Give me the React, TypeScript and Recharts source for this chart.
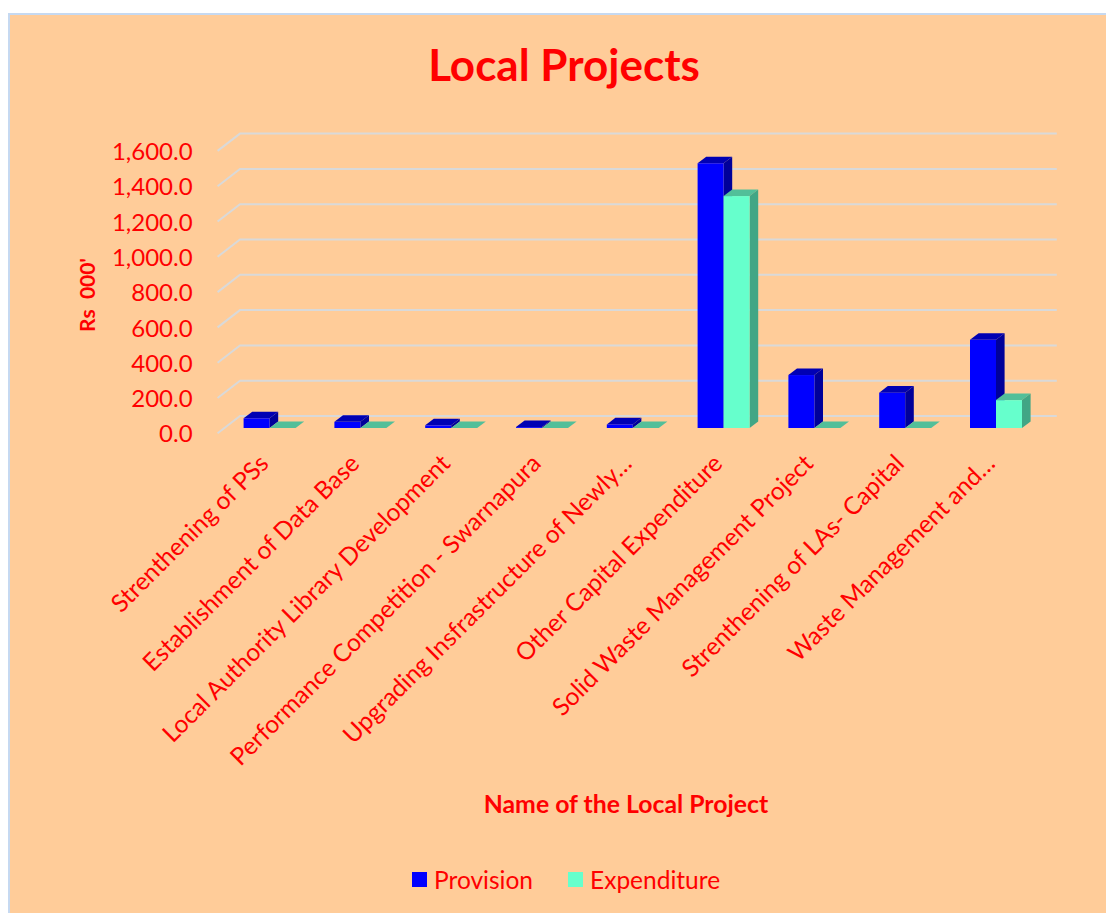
import React from 'react';
import { BarChart, Bar, XAxis, YAxis, CartesianGrid, Legend } from 'recharts';

const projects = [
  'Strenthening of PSs',
  'Establishment of Data Base',
  'Local Authority Library Development',
  'Performance Competition - Swarnapura',
  'Upgrading Insfrastructure of Newly…',
  'Other Capital Expenditure',
  'Solid Waste Management Project',
  'Strenthening of LAs- Capital',
  'Waste Management and…',
];
const provision = [55, 35, 15, 5, 20, 1500, 300, 200, 500];
const expenditure = [0, 0, 0, 0, 0, 1314, 0, 0, 158];
const yTicks = [0, 200, 400, 600, 800, 1000, 1200, 1400, 1600];

const chartData = projects.map((name, i) => ({ name, provision: provision[i], expenditure: expenditure[i] }));

const FONT = 'Lato, sans-serif';
const RED = '#FF0000';
const DEPTH_X = 8.6;
const DEPTH_Y = 6.6;

const formatTick = (v: number) =>
  new Intl.NumberFormat('en-US', { minimumFractionDigits: 1, maximumFractionDigits: 1 }).format(v);

const makeBar3D = (front: string, top: string, side: string) => (props: any) => {
  const { x, y, width, height } = props;
  return (
    <g>
      <polygon
        points={`${x},${y} ${x + DEPTH_X},${y - DEPTH_Y} ${x + width + DEPTH_X},${y - DEPTH_Y} ${x + width},${y}`}
        fill={top}
      />
      <polygon
        points={`${x + width},${y} ${x + width + DEPTH_X},${y - DEPTH_Y} ${x + width + DEPTH_X},${y + height - DEPTH_Y} ${x + width},${y + height}`}
        fill={side}
      />
      <rect x={x} y={y} width={width} height={height} fill={front} />
    </g>
  );
};

// floor-to-back-wall grid line, like Excel's 3D column charts
const GridLine3D = (props: any) => {
  const { x1, y1, x2, key } = props;
  return (
    <path
      key={key}
      d={`M${x1 - 7},${y1 + 5.3} L${x1 + 15.4},${y1 - 12} L${x2 + 15},${y1 - 12}`}
      fill="none"
      stroke="#D9D9D9"
      strokeWidth={2}
    />
  );
};

const YTick = ({ x, y, payload }: any) => (
  <text x={x} y={y + 6} dy="0.35em" textAnchor="end" fill={RED} fontFamily={FONT} fontSize={24}>
    {formatTick(payload.value)}
  </text>
);

const XTick = ({ x, y, payload }: any) => (
  <text
    transform={`translate(${x},${y + 29}) rotate(-45)`}
    textAnchor="end"
    fill={RED}
    fontFamily={FONT}
    fontSize={24.5}
  >
    {payload.value}
  </text>
);

const LegendContent = ({ payload }: any) => (
  <div style={{ display: 'flex', height: 28, paddingLeft: 412, fontFamily: FONT, fontSize: 24.5, color: RED }}>
    {(payload || []).map((p: any, i: number) => (
      <div key={p.value} style={{ display: 'flex', alignItems: 'center', marginRight: i === 0 ? 35 : 0 }}>
        <span style={{ width: 15, height: 15, background: p.color, marginRight: 7, display: 'inline-block' }} />
        {p.value}
      </div>
    ))}
  </div>
);

export default function App() {
  return (
    <div style={{ position: 'absolute', left: 0, top: 0, width: 1106, height: 913, overflow: 'hidden', background: '#fff' }}>
      <div
        style={{
          position: 'absolute',
          left: 8,
          top: 13,
          width: 1098,
          height: 900,
          boxSizing: 'border-box',
          background: '#FFCC99',
          borderLeft: '2px solid #C6D9F1',
          borderTop: '2px solid #C6D9F1',
        }}
      />
      <div style={{ position: 'absolute', left: 0, top: 0 }}>
        <BarChart
          width={1106}
          height={913}
          data={chartData}
          barSize={26}
          barGap={0}
          margin={{ top: 145.6, right: 64.2, bottom: 456, left: 0 }}
        >
          <CartesianGrid vertical={false} horizontal={GridLine3D as any} />
          <XAxis dataKey="name" interval={0} height={1} axisLine={false} tickLine={false} tick={<XTick />} />
          <YAxis
            width={224.6}
            domain={[0, 1600]}
            ticks={yTicks}
            interval={0}
            axisLine={false}
            tickLine={false}
            tickSize={0}
            tickMargin={32}
            tick={<YTick />}
          />
          <Legend
            content={<LegendContent />}
            itemSorter={null}
            wrapperStyle={{ position: 'absolute', left: 0, top: 865, width: 1106 }}
          />
          <Bar
            dataKey="provision"
            name="Provision"
            fill="#0000FF"
            isAnimationActive={false}
            shape={makeBar3D('#0000FF', '#0000B4', '#00009A')}
          />
          <Bar
            dataKey="expenditure"
            name="Expenditure"
            fill="#66FFCC"
            isAnimationActive={false}
            shape={makeBar3D('#66FFCC', '#52BF99', '#41A685')}
          />
          <text x={564} y={81} textAnchor="middle" fill={RED} fontFamily={FONT} fontWeight={700} fontSize={44}>
            Local Projects
          </text>
          <text
            transform="translate(95,295) rotate(-90)"
            textAnchor="middle"
            fill={RED}
            fontFamily={FONT}
            fontWeight={700}
            fontSize={21}
          >
            {"Rs\u00A0\u00A0000'"}
          </text>
          <text x={626} y={813} textAnchor="middle" fill={RED} fontFamily={FONT} fontWeight={700} fontSize={24.8}>
            Name of the Local Project
          </text>
        </BarChart>
      </div>
    </div>
  );
}
